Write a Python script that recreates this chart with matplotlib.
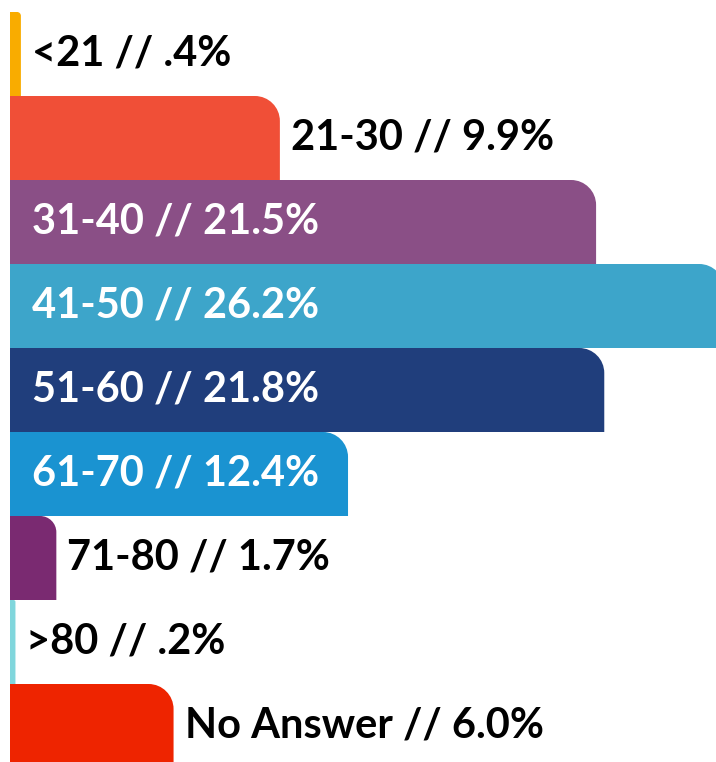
import matplotlib.pyplot as plt
from matplotlib.path import Path
from matplotlib.patches import PathPatch

plt.rcParams['font.family'] = ['Lato', 'DejaVu Sans']

labels = ["<21", "21-30", "31-40", "41-50", "51-60", "61-70", "71-80", ">80", "No Answer"]
values = [0.4, 9.9, 21.5, 26.2, 21.8, 12.4, 1.7, 0.2, 6.0]
texts = [".4%", "9.9%", "21.5%", "26.2%", "21.8%", "12.4%", "1.7%", ".2%", "6.0%"]
colors = ["#F9AC00", "#F04F37", "#8A4F86", "#3DA5CA", "#203E7C",
          "#1A93D1", "#7A2A71", "#80D6DC", "#EE2400"]

W, H = 716, 762
fig = plt.figure(figsize=(W / 100, H / 100), dpi=100)
ax = fig.add_axes([0, 0, 1, 1])

px_x = 27.26   # pixels per percent
px_y = 84.0    # pixels per bar
ax.set_xlim(-10 / px_x, (W - 10) / px_x)
top = -0.5 - 12 / px_y
ax.set_ylim(top + H / px_y, top)
ax.axis("off")

bars = ax.barh(range(len(values)), values, height=1.0, color="none")

k = 0.5523
for b, c in zip(bars, colors):
    x0, y0 = b.get_x(), b.get_y()
    w, h = b.get_width(), b.get_height()
    r_px = min(25, w * px_x * 0.35)
    rx, ry = r_px / px_x, r_px / px_y
    x1 = x0 + w
    # y axis inverted: y0 is top edge
    verts = [(x0, y0 + h), (x0, y0), (x1 - rx, y0),
             (x1 - rx + k * rx, y0), (x1, y0 + ry - k * ry), (x1, y0 + ry),
             (x1, y0 + h), (x0, y0 + h)]
    codes = [Path.MOVETO, Path.LINETO, Path.LINETO,
             Path.CURVE4, Path.CURVE4, Path.CURVE4,
             Path.LINETO, Path.CLOSEPOLY]
    ax.add_patch(PathPatch(Path(verts, codes), facecolor=c, edgecolor="none"))

for i, (lab, v, t) in enumerate(zip(labels, values, texts)):
    s = f"{lab} // {t}"
    if v > 11:
        ax.text(22 / px_x, i, s, color="white", fontsize=30, fontweight="bold",
                va="center", ha="left")
    else:
        ax.text(v + 11 / px_x, i, s, color="black", fontsize=30, fontweight="bold",
                va="center", ha="left")

fig.savefig("out.png", dpi=100)
